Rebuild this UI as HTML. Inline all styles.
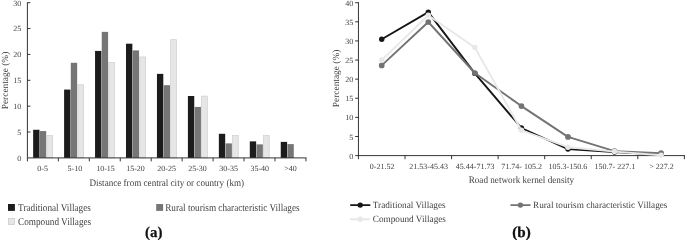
<!DOCTYPE html>
<html lang="en"><head><meta charset="utf-8"><title>Figure</title>
<style>
html,body{margin:0;padding:0;background:#fff;overflow:hidden;}
svg{display:block;}
</style></head><body>
<svg width="685" height="240" viewBox="0 0 685 240" font-family='"Liberation Serif", serif' text-rendering="geometricPrecision">
<rect width="685" height="240" fill="#fff"/>
<rect x="33.15" y="129.77" width="6.35" height="28.13" fill="#1c1c1c"/>
<rect x="39.85" y="131.06" width="6.35" height="26.84" fill="#767676"/>
<rect x="46.90" y="135.64" width="5.65" height="22.26" fill="#e6e6e6" stroke="#cdcdcd" stroke-width="0.7"/>
<rect x="64.10" y="89.58" width="6.35" height="68.32" fill="#1c1c1c"/>
<rect x="70.80" y="62.78" width="6.35" height="95.12" fill="#767676"/>
<rect x="77.85" y="84.77" width="5.65" height="73.13" fill="#e6e6e6" stroke="#cdcdcd" stroke-width="0.7"/>
<rect x="95.05" y="50.93" width="6.35" height="106.97" fill="#1c1c1c"/>
<rect x="101.75" y="31.86" width="6.35" height="126.04" fill="#767676"/>
<rect x="108.80" y="62.61" width="5.65" height="95.29" fill="#e6e6e6" stroke="#cdcdcd" stroke-width="0.7"/>
<rect x="126.00" y="43.71" width="6.35" height="114.19" fill="#1c1c1c"/>
<rect x="132.70" y="50.41" width="6.35" height="107.49" fill="#767676"/>
<rect x="139.75" y="56.95" width="5.65" height="100.95" fill="#e6e6e6" stroke="#cdcdcd" stroke-width="0.7"/>
<rect x="156.95" y="73.86" width="6.35" height="84.04" fill="#1c1c1c"/>
<rect x="163.65" y="85.20" width="6.35" height="72.70" fill="#767676"/>
<rect x="170.70" y="39.68" width="5.65" height="118.22" fill="#e6e6e6" stroke="#cdcdcd" stroke-width="0.7"/>
<rect x="187.90" y="96.02" width="6.35" height="61.88" fill="#1c1c1c"/>
<rect x="194.60" y="106.94" width="6.35" height="50.96" fill="#767676"/>
<rect x="201.65" y="96.11" width="5.65" height="61.79" fill="#e6e6e6" stroke="#cdcdcd" stroke-width="0.7"/>
<rect x="218.85" y="133.79" width="6.35" height="24.11" fill="#1c1c1c"/>
<rect x="225.55" y="143.38" width="6.35" height="14.52" fill="#767676"/>
<rect x="232.60" y="135.64" width="5.65" height="22.26" fill="#e6e6e6" stroke="#cdcdcd" stroke-width="0.7"/>
<rect x="249.80" y="141.37" width="6.35" height="16.53" fill="#1c1c1c"/>
<rect x="256.50" y="144.36" width="6.35" height="13.54" fill="#767676"/>
<rect x="263.55" y="135.64" width="5.65" height="22.26" fill="#e6e6e6" stroke="#cdcdcd" stroke-width="0.7"/>
<rect x="280.75" y="141.88" width="6.35" height="16.02" fill="#1c1c1c"/>
<rect x="287.45" y="144.10" width="6.35" height="13.80" fill="#767676"/>
<path d="M27.4 2.25 V157.9 H306.40" fill="none" stroke="#2a2a2a" stroke-width="0.95"/>
<path d="M27.40 132.03 H30.40 M27.40 106.17 H30.40 M27.40 80.30 H30.40 M27.40 54.43 H30.40 M27.40 28.57 H30.40 M27.40 2.70 H30.40 M27.40 157.9 V161.40 M58.35 157.9 V161.40 M89.30 157.9 V161.40 M120.25 157.9 V161.40 M151.20 157.9 V161.40 M182.15 157.9 V161.40 M213.10 157.9 V161.40 M244.05 157.9 V161.40 M275.00 157.9 V161.40 M305.95 157.9 V161.40 " fill="none" stroke="#2a2a2a" stroke-width="0.95"/>
<text transform="translate(21.30 160.70) scale(1.0 0.985)" text-anchor="end" font-size="8" fill="#424242" xml:space="preserve">0</text>
<text transform="translate(21.30 134.83) scale(1.0 0.985)" text-anchor="end" font-size="8" fill="#424242" xml:space="preserve">5</text>
<text transform="translate(21.30 108.97) scale(1.0 0.985)" text-anchor="end" font-size="8" fill="#424242" xml:space="preserve">10</text>
<text transform="translate(21.30 83.10) scale(1.0 0.985)" text-anchor="end" font-size="8" fill="#424242" xml:space="preserve">15</text>
<text transform="translate(21.30 57.23) scale(1.0 0.985)" text-anchor="end" font-size="8" fill="#424242" xml:space="preserve">20</text>
<text transform="translate(21.30 31.37) scale(1.0 0.985)" text-anchor="end" font-size="8" fill="#424242" xml:space="preserve">25</text>
<text transform="translate(21.30 5.50) scale(1.0 0.985)" text-anchor="end" font-size="8" fill="#424242" xml:space="preserve">30</text>
<text transform="translate(42.58 171.10) scale(1.0 0.985)" text-anchor="middle" font-size="8" fill="#424242" xml:space="preserve">0-5</text>
<text transform="translate(74.83 171.10) scale(1.0 0.985)" text-anchor="middle" font-size="8" fill="#424242" xml:space="preserve">5-10</text>
<text transform="translate(105.47 171.10) scale(1.0 0.985)" text-anchor="middle" font-size="8" fill="#424242" xml:space="preserve">10-15</text>
<text transform="translate(135.53 171.10) scale(1.0 0.985)" text-anchor="middle" font-size="8" fill="#424242" xml:space="preserve">15-20</text>
<text transform="translate(166.57 171.10) scale(1.0 0.985)" text-anchor="middle" font-size="8" fill="#424242" xml:space="preserve">20-25</text>
<text transform="translate(197.52 171.10) scale(1.0 0.985)" text-anchor="middle" font-size="8" fill="#424242" xml:space="preserve">25-30</text>
<text transform="translate(228.57 171.10) scale(1.0 0.985)" text-anchor="middle" font-size="8" fill="#424242" xml:space="preserve">30-35</text>
<text transform="translate(259.73 171.10) scale(1.0 0.985)" text-anchor="middle" font-size="8" fill="#424242" xml:space="preserve">35-40</text>
<text transform="translate(290.38 171.10) scale(1.0 0.985)" text-anchor="middle" font-size="8" fill="#424242" xml:space="preserve">&gt;40</text>
<text transform="translate(166.80 185.70) scale(0.9217 1)" text-anchor="middle" font-size="9.9" fill="#424242">Distance from central city or country (km)</text>
<text transform="translate(7.7 80.5) rotate(-90)" text-anchor="middle" font-size="9.4" fill="#424242">Percentage (%)</text>
<rect x="8.0" y="204.0" width="6.9" height="6.9" fill="#1c1c1c"/>
<text transform="translate(18.10 211.20) scale(0.885 1)" text-anchor="start" font-size="10.4" fill="#424242">Traditional Villages</text>
<rect x="156.2" y="204.0" width="6.9" height="6.9" fill="#767676"/>
<text transform="translate(165.20 211.20) scale(0.885 1)" text-anchor="start" font-size="10.4" fill="#424242">Rural tourism characteristic Villages</text>
<rect x="8.35" y="218.35" width="6.2" height="6.2" fill="#e6e6e6" stroke="#c8c8c8" stroke-width="0.7"/>
<text transform="translate(18.10 225.30) scale(0.885 1)" text-anchor="start" font-size="10.4" fill="#424242">Compound Villages</text>
<text x="153.8" y="236.7" text-anchor="middle" font-size="14.9" font-weight="bold" fill="#111" stroke="#111" stroke-width="0.25">(a)</text>
<path d="M358.45 2.25 V159.20 M355.15 155.6 H686" fill="none" stroke="#2a2a2a" stroke-width="0.95"/>
<path d="M355.15 136.49 H358.45 M355.15 117.38 H358.45 M355.15 98.26 H358.45 M355.15 79.15 H358.45 M355.15 60.04 H358.45 M355.15 40.92 H358.45 M355.15 21.81 H358.45 M355.15 2.70 H358.45 M405.01 155.6 V159.20 M451.57 155.6 V159.20 M498.13 155.6 V159.20 M544.69 155.6 V159.20 M591.25 155.6 V159.20 M637.81 155.6 V159.20 M684.37 155.6 V159.20 " fill="none" stroke="#2a2a2a" stroke-width="0.95"/>
<polyline points="381.73,39.30 428.29,12.10 474.85,73.40 521.41,128.00 567.97,149.10 614.53,152.00 661.09,154.60" fill="none" stroke="#161616" stroke-width="1.9" stroke-linejoin="round" stroke-linecap="round"/>
<circle cx="381.73" cy="39.30" r="2.7" fill="#161616"/>
<circle cx="428.29" cy="12.10" r="2.7" fill="#161616"/>
<circle cx="474.85" cy="73.40" r="2.7" fill="#161616"/>
<circle cx="521.41" cy="128.00" r="2.7" fill="#161616"/>
<circle cx="567.97" cy="149.10" r="2.7" fill="#161616"/>
<circle cx="614.53" cy="152.00" r="2.7" fill="#161616"/>
<circle cx="661.09" cy="154.60" r="2.7" fill="#161616"/>
<polyline points="381.73,65.40 428.29,22.00 474.85,73.00 521.41,106.10 567.97,136.90 614.53,151.20 661.09,153.20" fill="none" stroke="#737373" stroke-width="1.9" stroke-linejoin="round" stroke-linecap="round"/>
<circle cx="381.73" cy="65.40" r="2.85" fill="#737373"/>
<circle cx="428.29" cy="22.00" r="2.85" fill="#737373"/>
<circle cx="474.85" cy="73.00" r="2.85" fill="#737373"/>
<circle cx="521.41" cy="106.10" r="2.85" fill="#737373"/>
<circle cx="567.97" cy="136.90" r="2.85" fill="#737373"/>
<circle cx="614.53" cy="151.20" r="2.85" fill="#737373"/>
<circle cx="661.09" cy="153.20" r="2.85" fill="#737373"/>
<polyline points="381.73,60.10 428.29,15.20 474.85,47.50 521.41,130.30 567.97,147.20 614.53,151.60 661.09,155.30" fill="none" stroke="#e8e8e8" stroke-width="1.9" stroke-linejoin="round" stroke-linecap="round"/>
<circle cx="381.73" cy="60.10" r="2.75" fill="#e8e8e8"/>
<circle cx="428.29" cy="15.20" r="2.75" fill="#e8e8e8"/>
<circle cx="474.85" cy="47.50" r="2.75" fill="#e8e8e8"/>
<circle cx="521.41" cy="130.30" r="2.75" fill="#e8e8e8"/>
<circle cx="567.97" cy="147.20" r="2.75" fill="#e8e8e8"/>
<circle cx="614.53" cy="151.60" r="2.75" fill="#e8e8e8"/>
<circle cx="661.09" cy="155.30" r="2.75" fill="#e8e8e8"/>
<text transform="translate(353.15 158.70) scale(1.0 0.985)" text-anchor="end" font-size="8" fill="#424242" xml:space="preserve">0</text>
<text transform="translate(353.15 139.59) scale(1.0 0.985)" text-anchor="end" font-size="8" fill="#424242" xml:space="preserve">5</text>
<text transform="translate(353.15 120.47) scale(1.0 0.985)" text-anchor="end" font-size="8" fill="#424242" xml:space="preserve">10</text>
<text transform="translate(353.15 101.36) scale(1.0 0.985)" text-anchor="end" font-size="8" fill="#424242" xml:space="preserve">15</text>
<text transform="translate(353.15 82.25) scale(1.0 0.985)" text-anchor="end" font-size="8" fill="#424242" xml:space="preserve">20</text>
<text transform="translate(353.15 63.14) scale(1.0 0.985)" text-anchor="end" font-size="8" fill="#424242" xml:space="preserve">25</text>
<text transform="translate(353.15 44.02) scale(1.0 0.985)" text-anchor="end" font-size="8" fill="#424242" xml:space="preserve">30</text>
<text transform="translate(353.15 24.91) scale(1.0 0.985)" text-anchor="end" font-size="8" fill="#424242" xml:space="preserve">35</text>
<text transform="translate(353.15 5.80) scale(1.0 0.985)" text-anchor="end" font-size="8" fill="#424242" xml:space="preserve">40</text>
<text transform="translate(382.12 169.20) scale(1.0 0.985)" text-anchor="middle" font-size="8" fill="#424242" xml:space="preserve">0-21.52</text>
<text transform="translate(428.66 169.20) scale(1.0 0.985)" text-anchor="middle" font-size="8" fill="#424242" xml:space="preserve">21.53-45.43</text>
<text transform="translate(475.10 169.20) scale(1.0 0.985)" text-anchor="middle" font-size="8" fill="#424242" xml:space="preserve">45.44-71.73</text>
<text transform="translate(521.54 169.20) scale(1.0 0.985)" text-anchor="middle" font-size="8" fill="#424242" xml:space="preserve">71.74- 105.2</text>
<text transform="translate(567.88 169.20) scale(1.0 0.985)" text-anchor="middle" font-size="8" fill="#424242" xml:space="preserve">105.3-150.6</text>
<text transform="translate(614.82 169.20) scale(1.0 0.985)" text-anchor="middle" font-size="8" fill="#424242" xml:space="preserve">150.7- 227.1</text>
<text transform="translate(661.46 169.20) scale(1.0 0.985)" text-anchor="middle" font-size="8" fill="#424242" xml:space="preserve">&gt; 227.2</text>
<text transform="translate(521.40 183.05) scale(0.9385 1)" text-anchor="middle" font-size="9.75" fill="#424242">Road network kernel density</text>
<text transform="translate(338.7 78.4) rotate(-90)" text-anchor="middle" font-size="9.4" fill="#424242">Percentage (%)</text>
<path d="M350.90 205.1 H369.60" stroke="#161616" stroke-width="1.9" stroke-linecap="round"/><circle cx="360.20" cy="205.1" r="2.7" fill="#161616"/>
<text transform="translate(372.80 208.15) scale(0.9634 1)" text-anchor="start" font-size="9.55" fill="#424242">Traditional Villages</text>
<path d="M511.10 205.1 H529.80" stroke="#737373" stroke-width="1.9" stroke-linecap="round"/><circle cx="520.40" cy="205.1" r="2.7" fill="#737373"/>
<text transform="translate(533.00 208.15) scale(0.9634 1)" text-anchor="start" font-size="9.55" fill="#424242">Rural tourism characteristic Villages</text>
<path d="M350.90 219.2 H369.60" stroke="#e8e8e8" stroke-width="1.9" stroke-linecap="round"/><circle cx="360.20" cy="219.2" r="2.7" fill="#e8e8e8"/>
<text transform="translate(372.80 222.25) scale(0.9634 1)" text-anchor="start" font-size="9.55" fill="#424242">Compound Villages</text>
<text x="521.5" y="237.0" text-anchor="middle" font-size="15.1" font-weight="bold" fill="#111" stroke="#111" stroke-width="0.3">(b)</text>
</svg>
</body></html>
